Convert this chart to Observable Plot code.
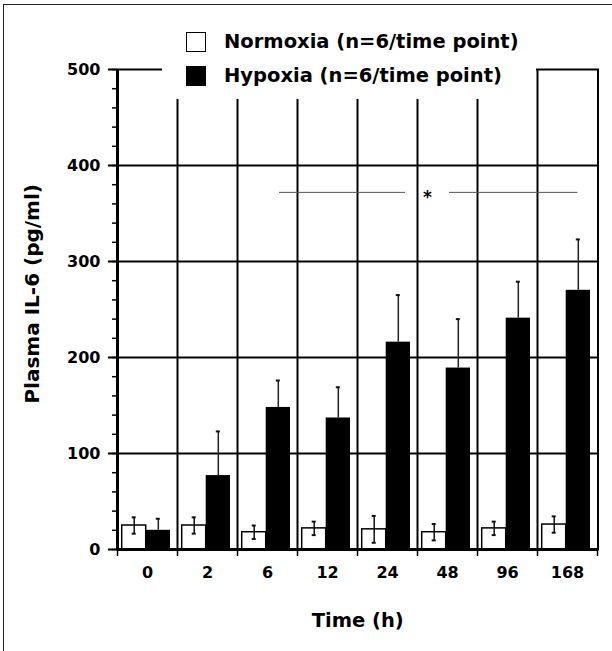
<!DOCTYPE html>
<html><head><meta charset="utf-8">
<script src="https://cdn.jsdelivr.net/npm/d3@7"></script>
<script src="https://cdn.jsdelivr.net/npm/@observablehq/plot@0.6"></script>
<style>
body{margin:0;background:#fff;}
#wrap{position:relative;width:612px;height:651px;overflow:hidden;font-family:"DejaVu Sans",sans-serif;}
#border{position:absolute;left:3px;top:4px;width:640px;height:700px;border-top:1.5px solid #222;border-left:1.5px solid #222;pointer-events:none;}
#legend{position:absolute;left:162px;top:24px;width:374px;height:75px;background:#fff;}
#legend .sw{position:absolute;left:24px;width:20px;height:20px;box-sizing:border-box;border:1.5px solid #000;}
#legend .lab{position:absolute;left:62px;font-weight:bold;font-size:19.5px;line-height:20px;white-space:nowrap;color:#000;}
</style></head>
<body>
<div id="wrap">
  <div id="chart"></div>
  <div id="border"></div>
  <div id="legend"></div>
</div>
<script>
const times = ["0", "2", "6", "12", "24", "48", "96", "168"];
const groups = ["Normoxia (n=6/time point)", "Hypoxia (n=6/time point)"];
const normoxiaMean = [25, 25, 18, 22, 21, 18, 22, 26];
const normoxiaErr  = [8.5, 8.5, 7, 7, 14, 8.5, 7, 8.5];
const hypoxiaMean  = [20, 77, 148, 137, 216, 189, 241, 270];
const hypoxiaErr   = [12, 46, 28, 32, 49, 51, 38, 53];
const yMajor = [0, 100, 200, 300, 400, 500];
const yMinor = [0, 20, 40, 60, 80, 100, 120, 140, 160, 180, 200, 220, 240, 260, 280, 300, 320, 340, 360, 380, 400, 420, 440, 460, 480, 500];
const sigLevel = [372];
const sigFrom = ["6", "48"];
const sigTo = ["24", "168"];
const sigText = ["*"];
const xTitle = ["Time (h)"];
const yTitle = ["Plasma IL-6 (pg/ml)"];

const norm = times.map((t, i) => ({time: t, mean: normoxiaMean[i], err: normoxiaErr[i]}));
const hyp = times.map((t, i) => ({time: t, mean: hypoxiaMean[i], err: hypoxiaErr[i]}));
const sig = sigFrom.map((f, i) => ({from: f, to: sigTo[i], y: sigLevel[0]}));

const font = '"DejaVu Sans", sans-serif';
const chart = Plot.plot({
  width: 612, height: 651,
  marginLeft: 117, marginRight: 14.5, marginTop: 69, marginBottom: 102,
  style: {fontFamily: font, fontWeight: "bold", fontSize: "16px", color: "#000", background: "transparent"},
  x: {type: "band", domain: times, padding: 0, label: null, axis: null},
  y: {domain: [0, 500], label: null, axis: null},
  marks: [
    Plot.ruleY(yMajor.slice(1, -1), {stroke: "#000", strokeWidth: 2}),
    Plot.ruleX(times.slice(1), {x: d => d, dx: -30, stroke: "#000", strokeWidth: 2}),
    Plot.frame({stroke: "#000", strokeWidth: 2}),
    Plot.ruleX([times[0]], {x: d => d, dx: -30, stroke: "#000", strokeWidth: 3}),
    Plot.barY(norm, {x: "time", y: "mean", fill: "#fff", stroke: "#000", strokeWidth: 1.5, insetLeft: 4.7, insetRight: 31.3}),
    Plot.barY(hyp, {x: "time", y: "mean", fill: "#000", insetLeft: 28.7, insetRight: 7}),
    Plot.ruleY([0], {stroke: "#000", strokeWidth: 3}),
    Plot.ruleX(norm, {x: "time", y1: d => d.mean - d.err, y2: d => d.mean + d.err, dx: -13.3, stroke: "#111", strokeWidth: 1.5}),
    Plot.tickY(norm, {x: "time", y: d => d.mean + d.err, insetLeft: 14.7, insetRight: 41.3, stroke: "#111", strokeWidth: 2}),
    Plot.tickY(norm, {x: "time", y: d => d.mean - d.err, insetLeft: 14.7, insetRight: 41.3, stroke: "#111", strokeWidth: 2}),
    Plot.ruleX(hyp, {x: "time", y1: d => d.mean, y2: d => d.mean + d.err, dx: 10.8, stroke: "#222", strokeWidth: 1.5}),
    Plot.tickY(hyp, {x: "time", y: d => d.mean + d.err, insetLeft: 38.8, insetRight: 17.2, stroke: "#111", strokeWidth: 2}),
    Plot.ruleY(sig.slice(0, 1), {x1: "from", x2: "to", y: "y", insetLeft: 42, insetRight: 12, stroke: "#555", strokeWidth: 1}),
    Plot.ruleY(sig.slice(1, 2), {x1: "from", x2: "to", y: "y", insetLeft: 32, insetRight: 19.5, stroke: "#555", strokeWidth: 1}),
    Plot.text(sigText, {x: () => "48", y: () => sigLevel[0], text: d => d, dx: -20, dy: 5, fontSize: 17, fontWeight: "bold"}),
    Plot.axisY({ticks: yMajor, tickSize: 9, tickPadding: 8, fontSize: 16, fontWeight: "bold", strokeWidth: 2, label: null}),
    Plot.axisY({ticks: yMinor, tickSize: 5, tickFormat: () => "", strokeWidth: 1.5, label: null}),
    Plot.axisX({ticks: times, tickSize: 0, tickPadding: 17, fontSize: 16, fontWeight: "bold", label: null}),
    Plot.axisX({ticks: times, tickSize: 7, tickFormat: () => "", dx: -30, strokeWidth: 1.5, label: null}),
    Plot.axisX({ticks: times.slice(-1), tickSize: 7, tickFormat: () => "", dx: 30, strokeWidth: 1.5, label: null}),
    Plot.text(xTitle, {frameAnchor: "bottom", text: d => d, dy: 71, lineAnchor: "middle", textAnchor: "middle", fontSize: 19.5, fontWeight: "bold"}),
    Plot.text(yTitle, {frameAnchor: "left", text: d => d, rotate: -90, dx: -85, dy: -15.7, lineAnchor: "middle", textAnchor: "middle", fontSize: 20, fontWeight: "bold"})
  ]
});
document.getElementById("chart").appendChild(chart);

const legend = document.getElementById("legend");
const fills = ["#fff", "#000"];
const tops = [7.7, 41.7];
groups.forEach((g, i) => {
  const sw = document.createElement("div");
  sw.className = "sw";
  sw.style.top = tops[i] + "px";
  sw.style.background = fills[i];
  legend.appendChild(sw);
  const lab = document.createElement("div");
  lab.className = "lab";
  lab.style.top = (tops[i] - 0.2) + "px";
  lab.textContent = g;
  legend.appendChild(lab);
});
</script>
</body></html>
